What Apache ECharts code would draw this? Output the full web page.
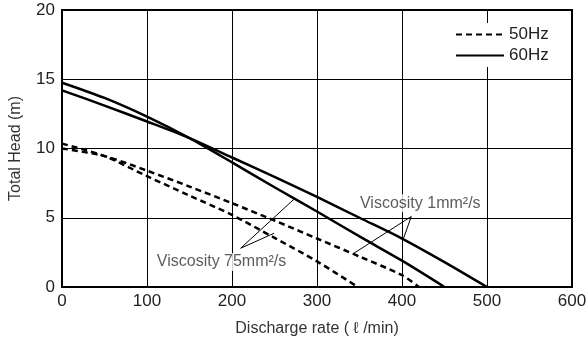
<!DOCTYPE html>
<html>
<head>
<meta charset="utf-8">
<script src="https://cdn.jsdelivr.net/npm/echarts@6/dist/echarts.min.js"></script>
<style>html,body{margin:0;padding:0;background:#fff}#c{width:586px;height:339px}</style>
</head>
<body>
<div id="c"></div>
<script>
// Discharge rate (l/min) and total head (m)
const x60v75 = [0, 50, 100, 150, 200, 250, 300, 350, 400, 450];
const y60v75 = [14.75, 13.65, 12.3, 10.75, 9.0, 7.2, 5.45, 3.65, 1.9, 0];
const x60v1 = [0, 50, 100, 150, 200, 250, 300, 350, 400, 450, 500];
const y60v1 = [14.2, 13.1, 11.95, 10.75, 9.35, 7.95, 6.5, 5.0, 3.5, 1.8, 0];
const x50v1 = [0, 50, 100, 150, 200, 250, 300, 350, 400, 420];
const y50v1 = [10.0, 9.45, 8.4, 7.25, 6.05, 4.8, 3.5, 2.2, 0.85, 0];
const x50v75 = [0, 50, 100, 150, 200, 250, 300, 348];
const y50v75 = [10.35, 9.45, 8.0, 6.6, 5.2, 3.55, 1.85, 0];

const xTicks = [0, 100, 200, 300, 400, 500, 600];
const yTicks = [0, 5, 10, 15, 20];
const legendNames = ['50Hz', '60Hz'];

// annotations: text position, leader apex, leader ends (data units)
const label1 = 'Viscosity 1mm\u00b2/s';
const label1Pos = [421.5, 6.04];
const lead1Apex = [410.9, 5.09];
const lead1Ends = [[401.1, 3.39], [342, 2.38]];
const label75 = 'Viscosity 75mm\u00b2/s';
const label75Pos = [187.7, 1.8];
const lead75Apex = [210.2, 2.8];
const lead75Ends = [[273.1, 6.35], [249.5, 3.88]];

const zip = (xs, ys) => xs.map((x, i) => [x, ys[i]]);

const solid = { color: '#000', width: 2.5, type: 'solid' };
const dashed = { color: '#000', width: 2.5, type: [6, 4] };

function leaders(apex, ends) {
  return ends.map(e => [{ coord: apex }, { coord: e }]);
}

const FONT = 'Liberation Sans';
const chart = echarts.init(document.getElementById('c'), null, { renderer: 'canvas' });
chart.setOption({
  animation: false,
  backgroundColor: '#fff',
  grid: { left: 62, right: 14, top: 10, bottom: 52, containLabel: false, outerBoundsMode: 'none', show: true, borderColor: '#000', borderWidth: 2, backgroundColor: 'transparent' },
  xAxis: {
    type: 'value', min: xTicks[0], max: xTicks[xTicks.length - 1], interval: 100,
    name: 'Discharge rate ( \u2113 /min)', nameLocation: 'middle', nameGap: 34,
    nameTextStyle: { fontFamily: FONT, fontSize: 16, color: '#333' },
    axisLine: { show: true, lineStyle: { color: '#000', width: 2 } },
    axisTick: { show: false },
    axisLabel: { fontFamily: FONT, fontSize: 17, color: '#222', margin: 6 },
    splitLine: { show: true, lineStyle: { color: '#000', width: 1 } }
  },
  yAxis: {
    type: 'value', min: yTicks[0], max: yTicks[yTicks.length - 1], interval: 5,
    name: 'Total Head (m)', nameLocation: 'middle', nameGap: 38,
    nameTextStyle: { fontFamily: FONT, fontSize: 16, color: '#333' },
    axisLine: { show: true, lineStyle: { color: '#000', width: 2 } },
    axisTick: { show: false },
    axisLabel: { fontFamily: FONT, fontSize: 17, color: '#222', margin: 7 },
    splitLine: { show: true, lineStyle: { color: '#000', width: 1 } }
  },
  legend: {
    data: legendNames, orient: 'vertical', left: 452, top: 23,
    padding: [3, 4, 3, 3], itemWidth: 48, itemHeight: 14, itemGap: 4,
    backgroundColor: '#fff',
    itemStyle: { opacity: 0 },
    textStyle: { fontFamily: FONT, fontSize: 17, lineHeight: 17, color: '#222' }
  },
  series: [
    { name: '50Hz', type: 'line', data: zip(x50v1, y50v1), smooth: 0.3, symbol: 'none', lineStyle: dashed, itemStyle: { color: '#000' }, z: 3 },
    { name: '50Hz', type: 'line', data: zip(x50v75, y50v75), smooth: 0.3, symbol: 'none', lineStyle: dashed, itemStyle: { color: '#000' }, z: 3 },
    { name: '60Hz', type: 'line', data: zip(x60v1, y60v1), smooth: 0.3, symbol: 'none', lineStyle: solid, itemStyle: { color: '#000' }, z: 3 },
    { name: '60Hz', type: 'line', data: zip(x60v75, y60v75), smooth: 0.3, symbol: 'none', lineStyle: solid, itemStyle: { color: '#000' }, z: 3 },
    {
      name: 'annot', type: 'line', data: [], symbol: 'none', z: 4,
      markLine: {
        silent: true, symbol: 'none', animation: false,
        lineStyle: { color: '#000', width: 1, type: 'solid' },
        label: { show: false },
        data: leaders(lead1Apex, lead1Ends).concat(leaders(lead75Apex, lead75Ends))
      }
    },
    {
      name: 'labels', type: 'scatter', symbolSize: 0, z: 5,
      data: [
        { value: label1Pos, name: label1 },
        { value: label75Pos, name: label75 }
      ],
      label: {
        show: true, position: 'inside', formatter: p => p.name,
        fontFamily: FONT, fontSize: 16, color: '#333',
        backgroundColor: '#fff', padding: [1, 2]
      }
    }
  ]
});
</script>
</body>
</html>
